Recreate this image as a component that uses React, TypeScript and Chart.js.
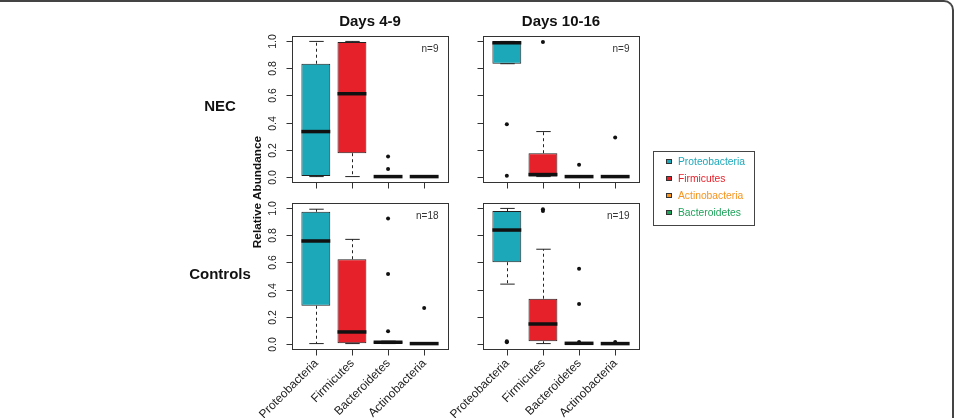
import React, { useEffect, useRef } from 'react';
import { Chart, registerables } from 'chart.js';

Chart.register(...registerables);

// Phyla on the x axis, in plotting order
const categories = ['Proteobacteria', 'Firmicutes', 'Bacteroidetes', 'Actinobacteria'];
const boxFills = ['#1DA8B9', '#E7212A', '#1FA25A', '#F7941E'];
const yTicks = [0, 0.2, 0.4, 0.6, 0.8, 1.0];

// Five-number summaries per phylum: [lower whisker, Q1, median, Q3, upper whisker]
const necDays4to9 = [
  [0, 0.005, 0.333, 0.835, 1.0],
  [0, 0.173, 0.613, 0.995, 1.0],
  [0, 0, 0, 0, 0],
  [0, 0, 0, 0, 0],
];
const necDays4to9Outliers = [[], [], [0.148, 0.057], []];

const necDays10to16 = [
  [0.835, 0.835, 0.99, 1.0, 1.0],
  [0, 0, 0.015, 0.173, 0.333],
  [0, 0, 0, 0, 0],
  [0, 0, 0, 0, 0],
];
const necDays10to16Outliers = [[0.388, 0.007], [0.995], [0.087], [0.289]];

const ctrlDays4to9 = [
  [0, 0.28, 0.759, 0.975, 0.994],
  [0, 0.003, 0.086, 0.624, 0.771],
  [0, 0.003, 0.01, 0.016, 0.018],
  [0, 0, 0, 0, 0],
];
const ctrlDays4to9Outliers = [[], [], [0.926, 0.514, 0.091], [0.263]];

const ctrlDays10to16 = [
  [0.44, 0.602, 0.84, 0.98, 1.0],
  [0, 0.017, 0.145, 0.332, 0.698],
  [0, 0, 0.002, 0.004, 0.008],
  [0, 0, 0, 0.002, 0.005],
];
const ctrlDays10to16Outliers = [[0.017, 0.01], [0.994, 0.98], [0.553, 0.293, 0.012], [0.012]];

const sampleSizes = ['n=9', 'n=9', 'n=18', 'n=19'];

const columnTitles = ['Days 4-9', 'Days 10-16'];
const rowTitles = ['NEC', 'Controls'];
const legendLabels = ['Proteobacteria', 'Firmicutes', 'Actinobacteria', 'Bacteroidetes'];
const legendColors = ['#1DA8B9', '#E7212A', '#F7941E', '#1FA25A'];

// Panel frame geometry (page pixels)
const W = 957;
const H = 418;
const frameLefts = [292, 483];
const frameTops = [36, 203];
const frameWidth = 156;
const frameHeight = 146;
const FONT = '"Liberation Sans", Arial, Helvetica, sans-serif';

const panels = [
  { stats: necDays4to9, outliers: necDays4to9Outliers, n: sampleSizes[0], row: 0, col: 0 },
  { stats: necDays10to16, outliers: necDays10to16Outliers, n: sampleSizes[1], row: 0, col: 1 },
  { stats: ctrlDays4to9, outliers: ctrlDays4to9Outliers, n: sampleSizes[2], row: 1, col: 0 },
  { stats: ctrlDays10to16, outliers: ctrlDays10to16Outliers, n: sampleSizes[3], row: 1, col: 1 },
];

function line(ctx: CanvasRenderingContext2D, x1: number, y1: number, x2: number, y2: number) {
  ctx.beginPath();
  ctx.moveTo(x1, y1);
  ctx.lineTo(x2, y2);
  ctx.stroke();
}

const boxplotPlugin = {
  id: 'boxplot',
  beforeDatasetsDraw(chart: any, _args: any, opts: any) {
    const { ctx, scales } = chart;
    const y = scales.y;
    const meta = chart.getDatasetMeta(0);
    ctx.save();
    ctx.strokeStyle = '#222';
    ctx.lineWidth = 1;
    opts.stats.forEach((s: number[], i: number) => {
      const bar = meta.data[i];
      const cx = Math.round(bar.x) + 0.5;
      const staple = bar.width / 4;
      ctx.setLineDash([3, 3]);
      line(ctx, cx, y.getPixelForValue(s[3]), cx, y.getPixelForValue(s[4]));
      line(ctx, cx, y.getPixelForValue(s[1]), cx, y.getPixelForValue(s[0]));
      ctx.setLineDash([]);
      line(ctx, cx - staple, y.getPixelForValue(s[4]), cx + staple, y.getPixelForValue(s[4]));
      line(ctx, cx - staple, y.getPixelForValue(s[0]), cx + staple, y.getPixelForValue(s[0]));
    });
    ctx.restore();
  },
  afterDatasetsDraw(chart: any, _args: any, opts: any) {
    const { ctx, chartArea, scales } = chart;
    const { x, y } = scales;
    const meta = chart.getDatasetMeta(0);
    ctx.save();
    // medians
    ctx.strokeStyle = '#111';
    ctx.lineWidth = 3.5;
    opts.stats.forEach((s: number[], i: number) => {
      const bar = meta.data[i];
      const my = y.getPixelForValue(s[2]);
      line(ctx, bar.x - bar.width / 2, my, bar.x + bar.width / 2, my);
    });

    // frame (x range padded by 4% like base R graphics)
    const ext = (chartArea.width / categories.length) * 0.16;
    const fl = Math.round(chartArea.left - ext) + 0.5;
    const fr = Math.round(chartArea.right + ext) + 0.5;
    const ft = Math.round(chartArea.top) + 0.5;
    const fb = Math.round(chartArea.bottom) + 0.5;
    ctx.strokeStyle = '#333';
    ctx.lineWidth = 1;
    ctx.strokeRect(fl, ft, fr - fl, fb - ft);

    // y ticks
    ctx.fillStyle = '#222';
    ctx.font = `10.5px ${FONT}`;
    yTicks.forEach((v) => {
      const py = Math.round(y.getPixelForValue(v)) + 0.5;
      line(ctx, fl, py, fl - 6, py);
      if (opts.yLabels) {
        ctx.save();
        ctx.translate(fl - 19, py);
        ctx.rotate(-Math.PI / 2);
        ctx.textAlign = 'center';
        ctx.textBaseline = 'middle';
        ctx.fillText(v.toFixed(1), 0, 0);
        ctx.restore();
      }
    });

    // x ticks
    ctx.font = `12px ${FONT}`;
    categories.forEach((c, i) => {
      const px = Math.round(x.getPixelForValue(i)) + 0.5;
      line(ctx, px, fb, px, fb + 6);
      if (opts.xLabels) {
        ctx.save();
        ctx.translate(px, fb + 12);
        ctx.rotate(-Math.PI / 4);
        ctx.textAlign = 'right';
        ctx.textBaseline = 'middle';
        ctx.fillText(c, 0, 0);
        ctx.restore();
      }
    });

    // sample size
    ctx.fillStyle = '#333';
    ctx.font = `10px ${FONT}`;
    ctx.textAlign = 'right';
    ctx.textBaseline = 'middle';
    ctx.fillText(opts.n, fr - 10, ft + 13);
    ctx.restore();
  },
};

function Panel({ p }: { p: (typeof panels)[number] }) {
  const ref = useRef<HTMLCanvasElement>(null);
  useEffect(() => {
    const left = frameLefts[p.col];
    const top = frameTops[p.row];
    const ext = (frameWidth / 4.32) * 0.16;
    const chart = new Chart(ref.current!, {
      type: 'bar',
      data: {
        labels: categories,
        datasets: [
          {
            type: 'bar',
            data: p.stats.map((s) => [s[1], s[3]]) as any,
            backgroundColor: boxFills,
            borderColor: '#222',
            borderWidth: 1,
            borderSkipped: false,
            barPercentage: 0.8,
            categoryPercentage: 1,
          },
          {
            type: 'scatter',
            data: p.outliers.flatMap((vals, i) => vals.map((v) => ({ x: categories[i], y: v }))) as any,
            pointRadius: 2,
            pointBackgroundColor: '#111',
            pointBorderWidth: 0,
          },
        ],
      },
      options: {
        responsive: false,
        animation: false,
        devicePixelRatio: 1,
        layout: {
          padding: {
            left: left + ext,
            right: W - (left + frameWidth - ext),
            top,
            bottom: H - (top + frameHeight),
          },
        },
        scales: {
          x: { type: 'category', display: false, offset: true },
          y: { type: 'linear', display: false, min: -0.04, max: 1.04 },
        },
        plugins: {
          legend: { display: false },
          tooltip: { enabled: false },
          boxplot: {
            stats: p.stats,
            n: p.n,
            yLabels: p.col === 0,
            xLabels: p.row === 1,
          },
        } as any,
      },
      plugins: [boxplotPlugin],
    });
    return () => chart.destroy();
  }, [p]);
  return (
    <canvas
      ref={ref}
      width={W}
      height={H}
      style={{ position: 'absolute', left: 0, top: 0, width: W, height: H }}
    />
  );
}

const centered = (x: number, y: number, extra: React.CSSProperties = {}): React.CSSProperties => ({
  position: 'absolute',
  left: x,
  top: y,
  transform: 'translate(-50%, -50%)',
  whiteSpace: 'nowrap',
  lineHeight: 1,
  fontFamily: FONT,
  fontWeight: 'bold',
  color: '#111',
  ...extra,
});

export default function App() {
  return (
    <div
      style={{
        position: 'absolute',
        left: 0,
        top: 0,
        width: W,
        height: H,
        overflow: 'hidden',
        background: '#fff',
      }}
    >
      <div
        style={{
          position: 'absolute',
          left: -20,
          top: 0,
          width: 974,
          height: 500,
          boxSizing: 'border-box',
          borderTop: '2px solid #444',
          borderRight: '2px solid #444',
          borderTopRightRadius: 10,
        }}
      />
      {panels.map((p, i) => (
        <Panel key={i} p={p} />
      ))}
      {columnTitles.map((t, i) => (
        <div key={t} style={centered(frameLefts[i] + frameWidth / 2, 20, { fontSize: 15 })}>
          {t}
        </div>
      ))}
      {rowTitles.map((t, i) => (
        <div key={t} style={centered(220, i === 0 ? 105 : 273, { fontSize: 15 })}>
          {t}
        </div>
      ))}
      <div style={centered(258, 192, { fontSize: 11.8, transform: 'translate(-50%, -50%) rotate(-90deg)' })}>
        Relative Abundance
      </div>
      <div
        style={{
          position: 'absolute',
          left: 653,
          top: 151,
          width: 102,
          height: 75,
          boxSizing: 'border-box',
          border: '1px solid #444',
        }}
      >
        {legendLabels.map((t, i) => (
          <div key={t}>
            <div
              style={{
                position: 'absolute',
                left: 12,
                top: 7 + i * 17,
                width: 6,
                height: 5,
                boxSizing: 'border-box',
                border: '1px solid #333',
                background: legendColors[i],
              }}
            />
            <div
              style={{
                position: 'absolute',
                left: 24,
                top: 10 + i * 17,
                transform: 'translateY(-50%)',
                fontFamily: FONT,
                fontSize: 10.3,
                lineHeight: 1,
                color: legendColors[i],
                whiteSpace: 'nowrap',
              }}
            >
              {t}
            </div>
          </div>
        ))}
      </div>
    </div>
  );
}
